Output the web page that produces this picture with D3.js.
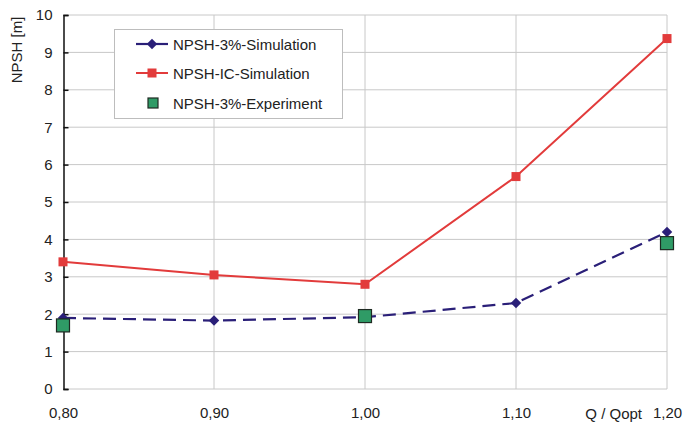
<!DOCTYPE html>
<html>
<head>
<meta charset="utf-8">
<script src="https://cdn.jsdelivr.net/npm/d3@7"></script>
<style>
  body { margin: 0; background: #fff; }
  svg text { font-family: "Liberation Sans", Arial, sans-serif; fill: #222; }
</style>
</head>
<body>
<svg id="chart" width="699" height="423"></svg>
<script>
// chart data
var qRatio = [0.80, 0.90, 1.00, 1.10, 1.20];
var npsh3Sim = [1.90, 1.83, 1.92, 2.30, 4.20];
var npshIcSim = [3.40, 3.05, 2.80, 5.68, 9.37];
var expQ = [0.80, 1.00, 1.20];
var npsh3Exp = [1.70, 1.95, 3.90];
var yTicks = [0, 1, 2, 3, 4, 5, 6, 7, 8, 9, 10];
var seriesNames = ["NPSH-3%-Simulation", "NPSH-IC-Simulation", "NPSH-3%-Experiment"];

var navy = "#2a1f78", red = "#e23b3b", green = "#2f9b66";

var svg = d3.select("#chart");
var x = d3.scaleLinear().domain([0.8, 1.2]).range([63, 667]);
var y = d3.scaleLinear().domain([0, 10]).range([389, 15]);
var fmt = function (d) { return d.toFixed(2).replace(".", ","); };

// grid
svg.append("g").selectAll("line").data(yTicks).enter().append("line")
  .attr("x1", 63).attr("x2", 667)
  .attr("y1", function (d) { return y(d); }).attr("y2", function (d) { return y(d); })
  .attr("stroke", "#c8c8c8").attr("stroke-width", 1);
svg.append("g").selectAll("line").data(qRatio.slice(1)).enter().append("line")
  .attr("x1", function (d) { return x(d); }).attr("x2", function (d) { return x(d); })
  .attr("y1", 15).attr("y2", 389)
  .attr("stroke", "#c8c8c8").attr("stroke-width", 1);

// y axis
var yAxis = d3.axisLeft(y).tickValues(yTicks).tickSize(-5).tickPadding(11);
var yg = svg.append("g").attr("transform", "translate(63.5,0)").call(yAxis);
yg.select(".domain").attr("stroke", "#111").attr("stroke-width", 1.5);
yg.selectAll(".tick line").attr("stroke", "#111").attr("stroke-width", 1.5);
yg.selectAll("text").attr("font-size", 15).attr("fill", "#222")
  .style("font-family", "Liberation Sans, Arial, sans-serif");

// x labels
var xAxis = d3.axisBottom(x).tickValues(qRatio).tickFormat(fmt).tickSize(0).tickPadding(18);
var xg = svg.append("g").attr("transform", "translate(0,389)").call(xAxis);
xg.select(".domain").remove();
xg.selectAll("text").attr("font-size", 15).attr("fill", "#222")
  .style("font-family", "Liberation Sans, Arial, sans-serif");

svg.append("text").attr("x", 642).attr("y", 419).attr("text-anchor", "end")
  .attr("font-size", 15).text("Q / Qopt");
svg.append("text").attr("transform", "translate(22,50) rotate(-90)")
  .attr("text-anchor", "middle").attr("font-size", 15).text("NPSH [m]");

var line = d3.line().x(function (d) { return x(d[0]); }).y(function (d) { return y(d[1]); });

// IC simulation
svg.append("path").datum(d3.zip(qRatio, npshIcSim)).attr("d", line)
  .attr("fill", "none").attr("stroke", red).attr("stroke-width", 2);
svg.append("g").selectAll("rect").data(d3.zip(qRatio, npshIcSim)).enter().append("rect")
  .attr("x", function (d) { return x(d[0]) - 4.5; }).attr("y", function (d) { return y(d[1]) - 4.5; })
  .attr("width", 9).attr("height", 9).attr("fill", red);

// 3% simulation
svg.append("path").datum(d3.zip(qRatio, npsh3Sim)).attr("d", line)
  .attr("fill", "none").attr("stroke", navy).attr("stroke-width", 2.2)
  .attr("stroke-dasharray", "13,7");
var diamond = d3.symbol().type(d3.symbolDiamond2).size(70);
svg.append("g").selectAll("path").data(d3.zip(qRatio, npsh3Sim)).enter().append("path")
  .attr("d", diamond)
  .attr("transform", function (d) { return "translate(" + x(d[0]) + "," + y(d[1]) + ")"; })
  .attr("fill", navy);

// experiment
svg.append("g").selectAll("rect").data(d3.zip(expQ, npsh3Exp)).enter().append("rect")
  .attr("x", function (d) { return x(d[0]) - 6.5; }).attr("y", function (d) { return y(d[1]) - 6.5; })
  .attr("width", 13).attr("height", 13).attr("fill", green)
  .attr("stroke", "#1e2a22").attr("stroke-width", 1.2);

// legend
var lg = svg.append("g");
lg.append("rect").attr("x", 114.5).attr("y", 29.5).attr("width", 228).attr("height", 89)
  .attr("fill", "#fff").attr("stroke", "#bdbdbd").attr("stroke-width", 1);
var rows = [44, 73, 103];
lg.append("line").attr("x1", 136).attr("x2", 168).attr("y1", rows[0]).attr("y2", rows[0])
  .attr("stroke", navy).attr("stroke-width", 2.2);
lg.append("path").attr("d", diamond).attr("transform", "translate(152," + rows[0] + ")").attr("fill", navy);
lg.append("line").attr("x1", 136).attr("x2", 168).attr("y1", rows[1]).attr("y2", rows[1])
  .attr("stroke", red).attr("stroke-width", 2);
lg.append("rect").attr("x", 147.5).attr("y", rows[1] - 4.5).attr("width", 9).attr("height", 9).attr("fill", red);
lg.append("rect").attr("x", 148).attr("y", rows[2] - 5).attr("width", 10).attr("height", 10)
  .attr("fill", green).attr("stroke", "#1e2a22").attr("stroke-width", 1.2);
lg.selectAll("text.leg").data(seriesNames).enter().append("text").attr("class", "leg")
  .attr("x", 173).attr("y", function (d, i) { return rows[i] + 5.5; })
  .attr("font-size", 15).text(function (d) { return d; });
</script>
</body>
</html>
